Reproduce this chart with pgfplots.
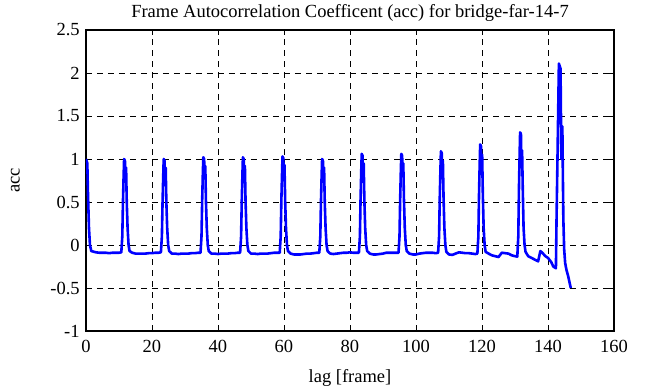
\documentclass[border=0pt]{standalone}
\usepackage{fontspec}
\setmainfont{Liberation Serif}
\usepackage{pgfplots}
\pgfplotsset{compat=1.18}
\definecolor{mblue}{RGB}{0,0,255}
\begin{document}
\fontsize{18.5pt}{22pt}\selectfont
\begin{tikzpicture}
\begin{axis}[
  name=ax, at={(0,0)}, anchor=south west,
  scale only axis, width=528pt, height=301pt,
  xmin=0, xmax=160, ymin=-1, ymax=2.5,
  xtick={0,20,40,60,80,100,120,140,160},
  ytick={-1,-0.5,0,0.5,1,1.5,2,2.5},
  yticklabels={-1,-0.5,0,0.5,1,1.5,2,2.5},
  /pgf/number format/assume math mode=true,
  ticklabel style={font=\fontsize{18.5pt}{22pt}\selectfont},
  xticklabel style={yshift=-3pt},
  label style={font=\fontsize{18.5pt}{22pt}\selectfont},
  xlabel style={yshift=-4pt},
  ylabel style={yshift=18pt},
  title style={font=\fontsize{18.5pt}{22pt}\selectfont, yshift=-4pt},
  grid=major,
  grid style={black, line width=0.8pt, dash pattern=on 6pt off 5pt},
  axis line style={line width=1.3pt},
  tick style={black, line width=0.9pt},
  major tick length=5pt,
  tick align=inside,
  xtick pos=both, ytick pos=both,
  title={Frame Autocorrelation Coefficent (acc) for bridge-far-14-7},
  xlabel={lag [frame]},
  ylabel={acc},
]
\addplot[mblue, line width=2.6pt, line join=round] coordinates {
(0,1.0)(0.4,0.95)(0.6,0.6)(0.9,0.2)(1.2,0.0)(1.6,-0.07)(2.5,-0.08)
(3,-0.085)(4,-0.09)(5,-0.09)(6,-0.09)(7,-0.095)(8,-0.09)(9,-0.09)(10,-0.09)(10.7,-0.085)
(11,0.1)(11.2,0.5)(11.4,0.8)(11.55,1.0)(11.8,0.98)(11.95,0.75)(12.15,0.9)(12.35,0.5)(12.6,0.2)(12.9,0.0)(13.2,-0.07)
(14,-0.09)(15,-0.1)(16,-0.1)(17,-0.1)(18,-0.1)(19,-0.095)(20,-0.095)(21,-0.09)(22,-0.09)(22.7,-0.085)
(23,0.1)(23.2,0.5)(23.4,0.8)(23.55,1.0)(23.8,0.98)(23.95,0.75)(24.15,0.9)(24.35,0.5)(24.6,0.2)(24.9,0.0)(25.2,-0.07)
(26,-0.1)(27,-0.1)(28,-0.105)(29,-0.1)(30,-0.1)(31,-0.1)(32,-0.095)(33,-0.095)(34,-0.09)(34.7,-0.09)
(35,0.1)(35.2,0.51)(35.4,0.82)(35.55,1.02)(35.8,1.0)(35.95,0.77)(36.15,0.92)(36.35,0.51)(36.6,0.2)(36.9,0.0)(37.2,-0.07)
(38,-0.1)(39,-0.1)(40,-0.105)(41,-0.1)(42,-0.1)(43,-0.1)(44,-0.095)(45,-0.095)(46,-0.09)(46.7,-0.09)
(47,0.1)(47.2,0.51)(47.4,0.82)(47.55,1.02)(47.8,1.0)(47.95,0.77)(48.15,0.92)(48.35,0.51)(48.6,0.2)(48.9,0.0)(49.2,-0.07)
(50,-0.1)(51,-0.1)(52,-0.105)(53,-0.1)(54,-0.1)(55,-0.1)(56,-0.095)(57,-0.09)(58,-0.09)(58.7,-0.09)
(59,0.1)(59.2,0.52)(59.4,0.82)(59.55,1.03)(59.8,1.01)(59.95,0.77)(60.15,0.93)(60.35,0.52)(60.6,0.2)(60.9,0.0)(61.2,-0.07)
(62,-0.1)(63,-0.11)(64,-0.11)(65,-0.11)(66,-0.105)(67,-0.1)(68,-0.1)(69,-0.095)(70,-0.09)(70.7,-0.09)
(71,0.1)(71.2,0.5)(71.4,0.8)(71.55,1.0)(71.8,0.98)(71.95,0.75)(72.15,0.9)(72.35,0.5)(72.6,0.2)(72.9,0.0)(73.2,-0.07)
(74,-0.1)(75,-0.105)(76,-0.1)(77,-0.095)(78,-0.09)(79,-0.09)(80,-0.085)(81,-0.09)(82,-0.09)(82.7,-0.09)
(83,0.1)(83.2,0.53)(83.4,0.85)(83.55,1.06)(83.8,1.04)(83.95,0.8)(84.15,0.95)(84.35,0.53)(84.6,0.2)(84.9,0.0)(85.2,-0.07)
(86,-0.1)(87,-0.11)(88,-0.11)(89,-0.105)(90,-0.1)(91,-0.09)(92,-0.09)(93,-0.09)(94,-0.09)(94.7,-0.09)
(95,0.1)(95.2,0.53)(95.4,0.85)(95.55,1.06)(95.8,1.04)(95.95,0.8)(96.15,0.95)(96.35,0.53)(96.6,0.2)(96.9,0.0)(97.2,-0.07)
(98,-0.1)(99,-0.11)(100,-0.11)(101,-0.1)(102,-0.095)(103,-0.09)(104,-0.09)(105,-0.09)(106,-0.095)(106.7,-0.09)
(107,0.1)(107.2,0.55)(107.4,0.87)(107.55,1.09)(107.8,1.07)(107.95,0.82)(108.15,0.98)(108.35,0.55)(108.6,0.2)(108.9,0.0)(109.2,-0.08)
(110,-0.11)(111,-0.115)(112,-0.1)(113,-0.085)(114,-0.09)(115,-0.095)(116,-0.095)(117,-0.1)(118,-0.105)(118.6,-0.1)
(118.9,0.1)(119.1,0.59)(119.3,0.94)(119.45,1.17)(119.7,1.15)(119.85,0.88)(120.05,1.05)(120.25,0.59)(120.5,0.2)(120.8,0.0)(121.1,-0.08)
(122,-0.1)(123,-0.12)(124,-0.13)(125,-0.14)(126,-0.09)(127,-0.095)(128,-0.1)(129,-0.12)(130,-0.13)(130.7,-0.135)
(131,0.1)(131.2,0.66)(131.4,1.05)(131.55,1.31)(131.8,1.29)(131.95,0.9)(132.15,1.1)(132.35,0.66)(132.6,0.2)(132.9,0.0)(133.2,-0.08)
(134,-0.13)(135,-0.15)(136,-0.17)(137,-0.19)(137.7,-0.07)(138.5,-0.1)(139.2,-0.13)(140,-0.15)(141,-0.2)(141.6,-0.25)(142.4,-0.27)
(142.6,0.33)(142.9,1.07)(143.3,2.11)(143.8,2.05)(144.05,1.0)(144.35,1.38)(144.65,0.3)(144.9,-0.05)(145.2,-0.21)(145.6,-0.29)(146.1,-0.36)(146.9,-0.5)
};
\end{axis}
\pgfresetboundingbox
\useasboundingbox ([shift={(-86pt,-56pt)}]ax.south west) rectangle ([shift={(37pt,30pt)}]ax.north east);
\end{tikzpicture}
\end{document}
